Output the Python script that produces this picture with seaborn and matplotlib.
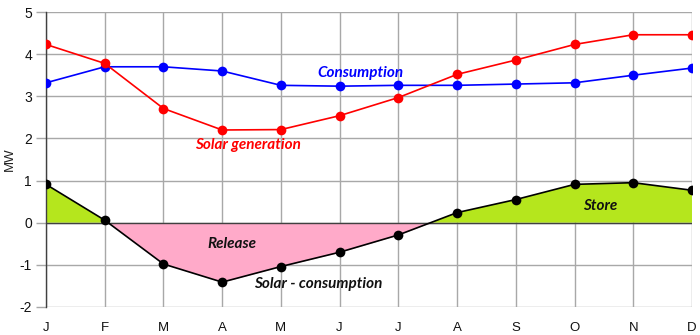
import matplotlib
matplotlib.use("Agg")
import matplotlib.pyplot as plt
import seaborn as sns
import numpy as np
import pandas as pd

months = ["J", "F", "M", "A", "M", "J", "J", "A", "S", "O", "N", "D"]
solar = [4.23, 3.78, 2.71, 2.20, 2.21, 2.54, 2.97, 3.52, 3.86, 4.23, 4.46, 4.46]
consumption = [3.32, 3.70, 3.70, 3.60, 3.26, 3.24, 3.26, 3.26, 3.29, 3.32, 3.50, 3.67]
difference = [0.91, 0.06, -0.98, -1.41, -1.04, -0.70, -0.29, 0.24, 0.55, 0.91, 0.95, 0.77]
yticks = [-2, -1, 0, 1, 2, 3, 4, 5]

sns.set_theme(style="whitegrid")
plt.rcParams["font.family"] = ["Liberation Sans", "DejaVu Sans"]

idx = np.arange(len(months))
df = pd.DataFrame({"x": idx, "solar": solar, "cons": consumption, "diff": difference})

fig = plt.figure(figsize=(7.0, 3.35), dpi=100)
ax = fig.add_axes([46/700, 1 - 307/335, (692 - 46)/700, (307 - 12)/335])

d = np.array(difference)
ax.fill_between(idx, d, 0, where=d >= 0, interpolate=True, color="#b5e61d", lw=0, zorder=1)
ax.fill_between(idx, d, 0, where=d <= 0, interpolate=True, color="#ffaac9", lw=0, zorder=1)
ax.axhline(0, color="#404040", lw=1.0, zorder=2)

mk = dict(marker="o", markersize=7, markeredgewidth=0, lw=1.2, zorder=4)
sns.lineplot(data=df, x="x", y="cons", ax=ax, color="#0000ff", **mk)
sns.lineplot(data=df, x="x", y="solar", ax=ax, color="#ff0000", **mk)
sns.lineplot(data=df, x="x", y="diff", ax=ax, color="#000000", **mk)

ax.set_xlim(0, 11)
ax.set_ylim(-2, 5)
ax.set_xticks(idx)
ax.set_xticklabels(months)
ax.set_yticks(yticks)
ax.set_yticklabels([str(t) for t in yticks])
ax.set_xlabel("")
ax.set_ylabel("MW", fontsize=9.5, color="#222222")
ax.yaxis.set_label_coords(-0.046, 0.5)

ax.grid(True, color="#a8a8a8", lw=1.0)
ax.set_axisbelow(True)
for s in ["top", "right", "bottom"]:
    ax.spines[s].set_visible(False)
ax.spines["left"].set_color("#404040")
ax.spines["left"].set_linewidth(1.0)
ax.tick_params(axis="y", which="both", left=True, length=7, width=1.0, color="#a8a8a8",
               labelsize=10, labelcolor="#111111", pad=3)
ax.tick_params(axis="x", bottom=False, length=0, labelsize=9.5, labelcolor="#111111", pad=10.5)

lab = dict(fontfamily=["Lato", "DejaVu Sans"], fontweight="bold", fontstyle="italic",
           fontsize=11, ha="center", va="center", zorder=5)
ax.text(5.35, 3.55, "Consumption", color="#0000ff", **lab)
ax.text(3.44, 1.84, "Solar generation", color="#ff0000", **lab)
ax.text(3.17, -0.50, "Release", color="#111111", **lab)
ax.text(4.63, -1.45, "Solar - consumption", color="#111111", **lab)
ax.text(9.44, 0.39, "Store", color="#111111", **lab)

fig.savefig("out.png", dpi=100)
